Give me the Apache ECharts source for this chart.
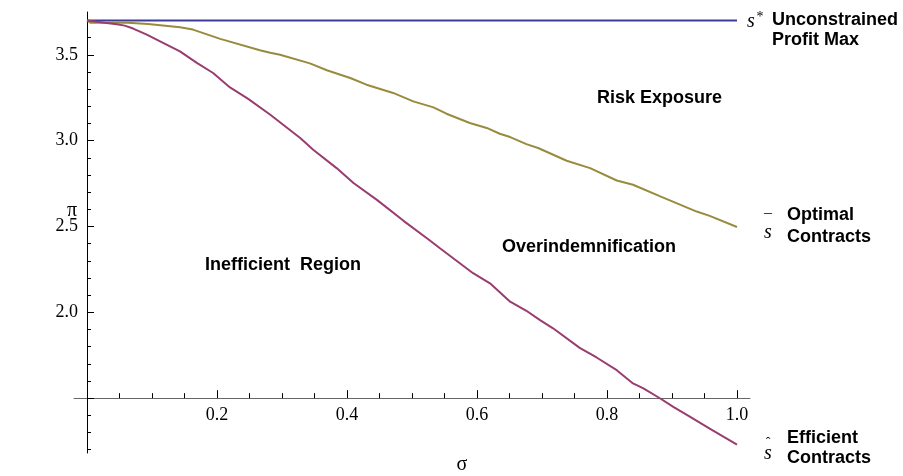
<!DOCTYPE html>
<html><head><meta charset="utf-8">
<script src="https://cdn.jsdelivr.net/npm/echarts@6/dist/echarts.min.js"></script>
<style>html,body{margin:0;padding:0;background:#fff}#c{width:903px;height:476px}</style>
</head><body><div id="c"></div>
<script>
// axis ranges and ticks
const sigmaMin = -0.02, sigmaMax = 1.02;
const piMin = 1.1806, piMax = 3.7494, originPi = 1.5, originSigma = 0;
const xMajorTicks = [0.2, 0.4, 0.6, 0.8, 1.0];
const xMinorTicks = [0.05, 0.1, 0.15, 0.25, 0.3, 0.35, 0.45, 0.5, 0.55, 0.65, 0.7, 0.75, 0.85, 0.9, 0.95];
const yMajorTicks = [1.5, 2.0, 2.5, 3.0, 3.5];
const yLabelTicks = [2.0, 2.5, 3.0, 3.5];
const yMinorTicks = [1.2, 1.3, 1.4, 1.6, 1.7, 1.8, 1.9, 2.1, 2.2, 2.3, 2.4, 2.6, 2.7, 2.8, 2.9, 3.1, 3.2, 3.3, 3.4, 3.6, 3.7];

// series: unconstrained profit max (s*)
const unconstrainedSigma = [0, 1.0];
const unconstrainedPi = [3.70, 3.70];

// series: optimal contracts (s-bar)
const optimalSigma = [0, 0.005, 0.063, 0.066, 0.094, 0.143, 0.163, 0.205, 0.266, 0.282, 0.297, 0.343, 0.369, 0.405, 0.43, 0.471, 0.502, 0.533, 0.553, 0.589, 0.615, 0.635, 0.651, 0.676, 0.694, 0.738, 0.774, 0.815, 0.84, 0.882, 0.938, 0.958, 1.0];
const optimalPi = [3.70, 3.687, 3.687, 3.68, 3.68, 3.66, 3.647, 3.593, 3.527, 3.512, 3.50, 3.45, 3.41, 3.365, 3.326, 3.278, 3.229, 3.194, 3.157, 3.103, 3.074, 3.04, 3.021, 2.98, 2.957, 2.883, 2.84, 2.768, 2.743, 2.675, 2.587, 2.562, 2.497];

// series: efficient contracts (s-hat)
const efficientSigma = [0, 0.03, 0.046, 0.058, 0.071, 0.092, 0.117, 0.143, 0.169, 0.194, 0.22, 0.248, 0.282, 0.328, 0.348, 0.384, 0.41, 0.446, 0.487, 0.525, 0.543, 0.594, 0.62, 0.651, 0.676, 0.697, 0.717, 0.758, 0.784, 0.815, 0.84, 0.856, 0.882, 0.902, 0.928, 0.958, 1.0];
const efficientPi = [3.70, 3.686, 3.678, 3.67, 3.653, 3.618, 3.57, 3.52, 3.453, 3.394, 3.31, 3.243, 3.151, 3.015, 2.947, 2.84, 2.753, 2.655, 2.533, 2.426, 2.373, 2.228, 2.169, 2.062, 2.009, 1.955, 1.907, 1.793, 1.737, 1.663, 1.586, 1.557, 1.498, 1.449, 1.391, 1.323, 1.23];

const zip = (a, b) => a.map((v, i) => [v, b[i]]);

const W = 903, H = 476;
const gridLeft = 74, gridRight = 153, gridTop = 12, gridBottom = 23;
const gridH = H - gridTop - gridBottom;
const gridW = W - gridLeft - gridRight;
const xOffset = -(originPi - piMin) / (piMax - piMin) * gridH;
const yOffset = -(originSigma - sigmaMin) / (sigmaMax - sigmaMin) * gridW;

const serif = '"Liberation Serif", "Times New Roman", serif';
const sans = '"Liberation Sans", Arial, sans-serif';
const boldFont = 'bold 18px ' + sans;

function txt(text, x, y, font, align) {
  return { type: 'text', x: x, y: y, silent: true,
    style: { text: text, font: font, fill: '#000', align: align || 'left', verticalAlign: 'middle' } };
}

const chart = echarts.init(document.getElementById('c'), null, { renderer: 'canvas' });
chart.setOption({
  animation: false,
  backgroundColor: '#fff',
  grid: { left: gridLeft, right: gridRight, top: gridTop, bottom: gridBottom, outerBoundsMode: 'none', containLabel: false },
  xAxis: [
    { type: 'value', min: sigmaMin, max: sigmaMax, position: 'bottom', offset: xOffset,
      axisLine: { show: true, onZero: false, lineStyle: { color: '#666', width: 1 } },
      axisTick: { show: true, inside: true, length: 8, customValues: xMajorTicks, lineStyle: { color: '#000' } },
      axisLabel: { show: true, customValues: xMajorTicks, margin: 8, color: '#000', fontFamily: serif, fontSize: 18,
        formatter: v => v.toFixed(1) },
      splitLine: { show: false } },
    { type: 'value', min: sigmaMin, max: sigmaMax, position: 'bottom', offset: xOffset,
      axisLine: { show: false, onZero: false },
      axisTick: { show: true, inside: true, length: 5, customValues: xMinorTicks, lineStyle: { color: '#000' } },
      axisLabel: { show: false }, splitLine: { show: false } }
  ],
  yAxis: [
    { type: 'value', min: piMin, max: piMax, position: 'left', offset: yOffset,
      axisLine: { show: true, onZero: false, lineStyle: { color: '#000', width: 1 } },
      axisTick: { show: true, inside: true, length: 7, customValues: yMajorTicks, lineStyle: { color: '#000' } },
      axisLabel: { show: true, customValues: yLabelTicks, margin: 9, color: '#000', fontFamily: serif, fontSize: 18,
        formatter: v => v.toFixed(1) },
      splitLine: { show: false } },
    { type: 'value', min: piMin, max: piMax, position: 'left', offset: yOffset,
      axisLine: { show: false, onZero: false },
      axisTick: { show: true, inside: true, length: 4, customValues: yMinorTicks, lineStyle: { color: '#000' } },
      axisLabel: { show: false }, splitLine: { show: false } }
  ],
  series: [
    { type: 'line', xAxisIndex: 0, yAxisIndex: 0, data: zip(unconstrainedSigma, unconstrainedPi), showSymbol: false, clip: false,
      lineStyle: { color: '#3d3d99', width: 2 }, itemStyle: { color: '#3d3d99' } },
    { type: 'line', xAxisIndex: 0, yAxisIndex: 0, data: zip(optimalSigma, optimalPi), showSymbol: false, clip: false,
      lineStyle: { color: '#998b3d', width: 2 }, itemStyle: { color: '#998b3d' } },
    { type: 'line', xAxisIndex: 0, yAxisIndex: 0, data: zip(efficientSigma, efficientPi), showSymbol: false, clip: false,
      lineStyle: { color: '#993d71', width: 2 }, itemStyle: { color: '#993d71' } }
  ],
  graphic: [
    txt('π', 72, 211, '20px ' + serif, 'center'),
    txt('σ', 462, 465, '20px ' + serif, 'center'),
    txt('s', 751, 22, 'italic 20px ' + serif, 'center'),
    txt('*', 760, 17, '14px ' + serif, 'center'),
    txt('Unconstrained', 772, 20, boldFont),
    txt('Profit Max', 772, 40, boldFont),
    txt('Risk Exposure', 597, 98, boldFont),
    txt('s', 768, 233, 'italic 20px ' + serif, 'center'),
    txt('\u00AF', 768, 222, '16px ' + serif, 'center'),
    txt('Optimal', 787, 215, boldFont),
    txt('Contracts', 787, 237, boldFont),
    txt('Overindemnification', 502, 247, boldFont),
    txt('Inefficient  Region', 205, 265, boldFont),
    txt('s', 768, 454, 'italic 20px ' + serif, 'center'),
    txt('\u02C6', 768, 443, '14px ' + serif, 'center'),
    txt('Efficient', 787, 438, boldFont),
    txt('Contracts', 787, 458, boldFont)
  ]
});
</script>
</body></html>
